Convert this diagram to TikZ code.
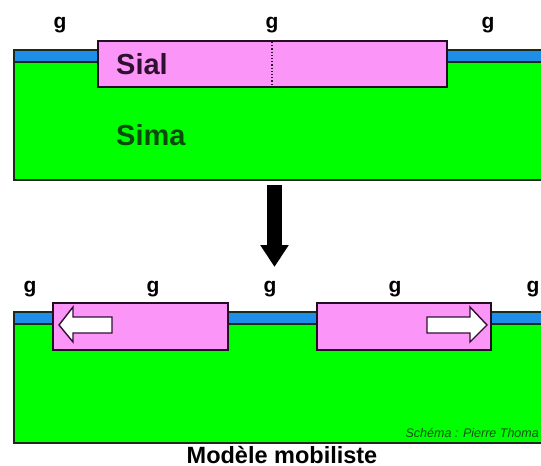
\documentclass[tikz,border=0pt]{standalone}
\usepackage{fontspec}
\setmainfont{Liberation Sans}
\usetikzlibrary{arrows.meta}
\definecolor{sima}{HTML}{00FF00}
\definecolor{ocean}{HTML}{1E8EE8}
\definecolor{sial}{HTML}{FB96F8}
\definecolor{edge}{HTML}{1C2A1C}
\definecolor{plum}{HTML}{301030}
\definecolor{simatext}{HTML}{0A4A0A}
\definecolor{credit}{HTML}{1A501A}
\tikzset{
  mantle/.style={fill=sima, draw=edge, line width=1.4pt},
  seafloor/.style={fill=ocean, draw=edge, line width=1.2pt},
  crust/.style={fill=sial, draw=plum!80!black, line width=1.6pt},
  motion/.style={fill=white, draw=plum, line width=1.4pt, line join=miter},
  glabel/.style={anchor=base, font=\fontsize{21}{21}\selectfont\bfseries, text=black, inner sep=0pt},
  layerlabel/.style={anchor=base west, font=\fontsize{29}{29}\selectfont\bfseries, inner sep=0pt},
}
\begin{document}
\begin{tikzpicture}[x=1pt, y=-1pt]
\useasboundingbox (0,0) rectangle (541,466);
\clip (0,0) rectangle (541,466);
\fill[white] (0,0) rectangle (541,466);

% ---- upper panel: one continuous block of sial ----
\draw[seafloor] (14,50) rectangle (560,62);
\draw[mantle] (14,62) rectangle (560,180);
\draw[crust] (98,41) rectangle (447,87);
\draw[plum, line width=1.2pt, dotted] (272,42) -- (272,86);
\node[layerlabel, text=plum] (sialtxt) at (116,74) {Sial};
\node[layerlabel, text=simatext] (simatxt) at (116,145) {Sima};
\node[glabel] (g1) at (60,28) {g};
\node[glabel] (g2) at (272,28) {g};
\node[glabel] (g3) at (488,28) {g};

% ---- transition arrow ----
\coordinate (arrtop) at (274.5,185);
\coordinate (arrtip) at (274.5,267);
\draw[black, line width=15pt, -{Triangle[width=27pt,length=22pt]}] (arrtop) -- (arrtip);

% ---- lower panel: the block split and drifting apart ----
\draw[seafloor] (14,312) rectangle (560,324);
\draw[mantle] (14,324) rectangle (560,443);
\draw[crust] (53,303) rectangle (228,350);
\draw[crust] (317,303) rectangle (491,350);
\draw[motion] (59,325) -- (73,307) -- (73,317) -- (112,317) -- (112,333)
  -- (73,333) -- (73,342) -- cycle;
\draw[motion] (487,325) -- (470,307) -- (470,317) -- (427,317) -- (427,333)
  -- (470,333) -- (470,342) -- cycle;
\node[glabel] (h1) at (30,292) {g};
\node[glabel] (h2) at (153,292) {g};
\node[glabel] (h3) at (270,292) {g};
\node[glabel] (h4) at (395,292) {g};
\node[glabel] (h5) at (533,292) {g};

\node[anchor=base east, inner sep=0pt, text=credit,
  font=\fontsize{12.5}{12.5}\selectfont\itshape] (credit) at (539,437)
  {Schéma : Pierre Thoma};

\node[anchor=base, inner sep=0pt, font=\fontsize{23.5}{23.5}\selectfont\bfseries]
  (title) at (282,463.5) {Modèle mobiliste};
\end{tikzpicture}
\end{document}
